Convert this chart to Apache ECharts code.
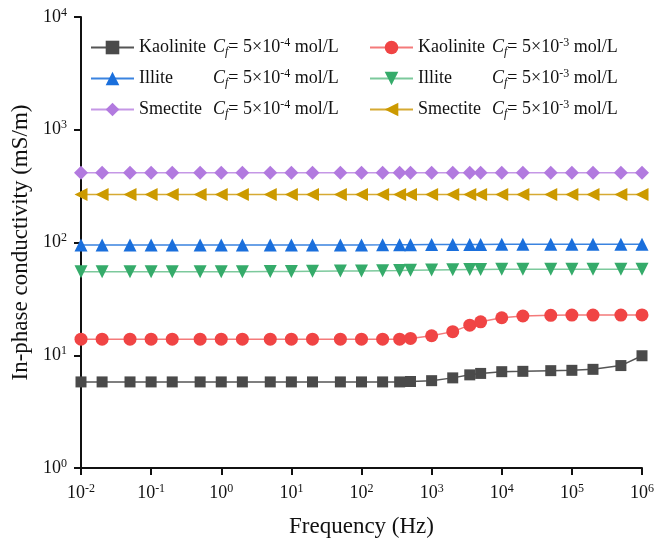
<!DOCTYPE html>
<html><head><meta charset="utf-8">
<script src="https://cdn.jsdelivr.net/npm/echarts@6/dist/echarts.min.js"></script>
<style>html,body{margin:0;padding:0;background:#fff}#c{width:657px;height:547px}</style>
</head><body><div id="c"></div>
<script>
const freq = [0.01,0.02,0.05,0.1,0.2,0.5,1,2,5,10,20,50,100,200,350,500,1000,2000,3500,5000,1e4,2e4,5e4,1e5,2e5,5e5,1e6];
const kaolinite4 = [5.8,5.8,5.8,5.8,5.8,5.8,5.8,5.8,5.8,5.8,5.8,5.8,5.8,5.8,5.8,5.85,5.95,6.3,6.7,6.9,7.15,7.2,7.3,7.35,7.5,8.1,9.9];
const kaolinite3 = [13.9,13.9,13.9,13.9,13.9,13.9,13.9,13.9,13.9,13.9,13.9,13.9,13.9,13.9,13.9,14.1,14.9,16.2,18.5,19.8,21.5,22.3,22.6,22.7,22.7,22.7,22.8];
const illite4 = [95,95,95,95,95,95,95,95,95,95,95,95,95.2,95.3,95.5,95.6,95.8,96,96.1,96.2,96.3,96.4,96.5,96.5,96.5,96.6,96.6];
const illite3 = [55,55,55,55,55,55,55,55,55.2,55.4,55.6,55.8,56,56.2,56.4,56.6,57,57.3,57.5,57.6,57.8,57.9,58,58,58,58,58];
const smectite4 = [415,415,415,415,415,415,415,415,415,415,415,415,415,415,415,415,415,415,415,415,415,415,415,415,415,415,415];
const smectite3 = [267,267,267,267,267,267,267,267,267,267,267,267,267,267,267,267,267,267,267,267,267,267,267,267,267,267,267];

const labels = {
  Kaolinite4:['Kaolinite','-4'], Kaolinite3:['Kaolinite','-3'],
  Illite4:['Illite','-4'], Illite3:['Illite','-3'],
  Smectite4:['Smectite','-4'], Smectite3:['Smectite','-3']
};
const FONT = '"Liberation Serif","Times New Roman",serif';
const supRich = {
  n:{fontFamily:FONT,fontSize:18,color:'#111'},
  s:{fontFamily:FONT,fontSize:12,color:'#111',padding:[0,0,9,0]}
};
function expLabel(v){
  const e = Math.round(Math.log10(v));
  return '{n|10}{s|' + e + '}';
}
const legendRich = {
  nm:{fontFamily:FONT,fontSize:18,color:'#111',width:74},
  i:{fontFamily:FONT,fontSize:18,fontStyle:'italic',color:'#111'},
  sub:{fontFamily:FONT,fontSize:12,fontStyle:'italic',color:'#111',padding:[9,0,0,0]},
  n:{fontFamily:FONT,fontSize:18,color:'#111'},
  sup:{fontFamily:FONT,fontSize:12,color:'#111',padding:[0,0,9,0]}
};
function legFmt(name){
  const l = labels[name];
  return '{nm|' + l[0] + '}{i|C}{sub|f}{n|= 5×10}{sup|' + l[1] + '}{n| mol/L}';
}
function mk(arr){ return freq.map((f,i)=>[f,arr[i]]); }

const seriesDefs = [
  {name:'Kaolinite4', data:kaolinite4, color:'#4a4a4a', line:'#555', symbol:'rect', size:11, rot:0},
  {name:'Kaolinite3', data:kaolinite3, color:'#f04444', line:'#f47a7a', symbol:'circle', size:13, rot:0},
  {name:'Illite4', data:illite4, color:'#1a6fdc', line:'#3a83e0', symbol:'triangle', size:13, rot:0},
  {name:'Illite3', data:illite3, color:'#35ab6a', line:'#7cc99c', symbol:'triangle', size:13, rot:180},
  {name:'Smectite4', data:smectite4, color:'#b27adf', line:'#c597e6', symbol:'diamond', size:14, rot:0},
  {name:'Smectite3', data:smectite3, color:'#cc9a00', line:'#d6aa33', symbol:'triangle', size:13, rot:90}
];

const legendBase = {orient:'vertical',top:32,itemGap:10,itemWidth:43,itemHeight:17,formatter:legFmt,textStyle:{rich:legendRich}};
const chart = echarts.init(document.getElementById('c'));
chart.setOption({
  animation:false,
  backgroundColor:'#fff',
  grid:{left:81,right:14,top:17,bottom:79},
  legend:[
    Object.assign({data:['Kaolinite4','Illite4','Smectite4'],left:85},legendBase),
    Object.assign({data:['Kaolinite3','Illite3','Smectite3'],left:364},legendBase)
  ],
  xAxis:{
    type:'log',logBase:10,min:0.01,max:1e6,
    name:'Frequency (Hz)',nameLocation:'middle',nameGap:47,
    nameTextStyle:{fontFamily:FONT,fontSize:23,color:'#111'},
    axisLine:{lineStyle:{color:'#111',width:2}},
    axisTick:{show:true,length:7,inside:false,lineStyle:{color:'#111',width:2}},
    minorTick:{show:false},
    splitLine:{show:false},
    axisLabel:{margin:15,formatter:expLabel,rich:supRich}
  },
  yAxis:{
    type:'log',logBase:10,min:1,max:1e4,
    name:'In-phase conductivity (mS/m)',nameLocation:'middle',nameGap:45,nameRotate:90,
    nameTextStyle:{fontFamily:FONT,fontSize:23,color:'#111'},
    axisLine:{show:true,lineStyle:{color:'#111',width:2}},
    axisTick:{show:true,length:7,inside:false,lineStyle:{color:'#111',width:2}},
    splitLine:{show:false},
    axisLabel:{margin:14,formatter:expLabel,rich:supRich}
  },
  series: seriesDefs.map(s=>({
    name:s.name,type:'line',data:mk(s.data),
    symbol:s.symbol,symbolSize:s.size,symbolRotate:s.rot,
    itemStyle:{color:s.color},
    lineStyle:{color:s.line,width:1.5},
    showAllSymbol:true
  }))
});
</script></body></html>
